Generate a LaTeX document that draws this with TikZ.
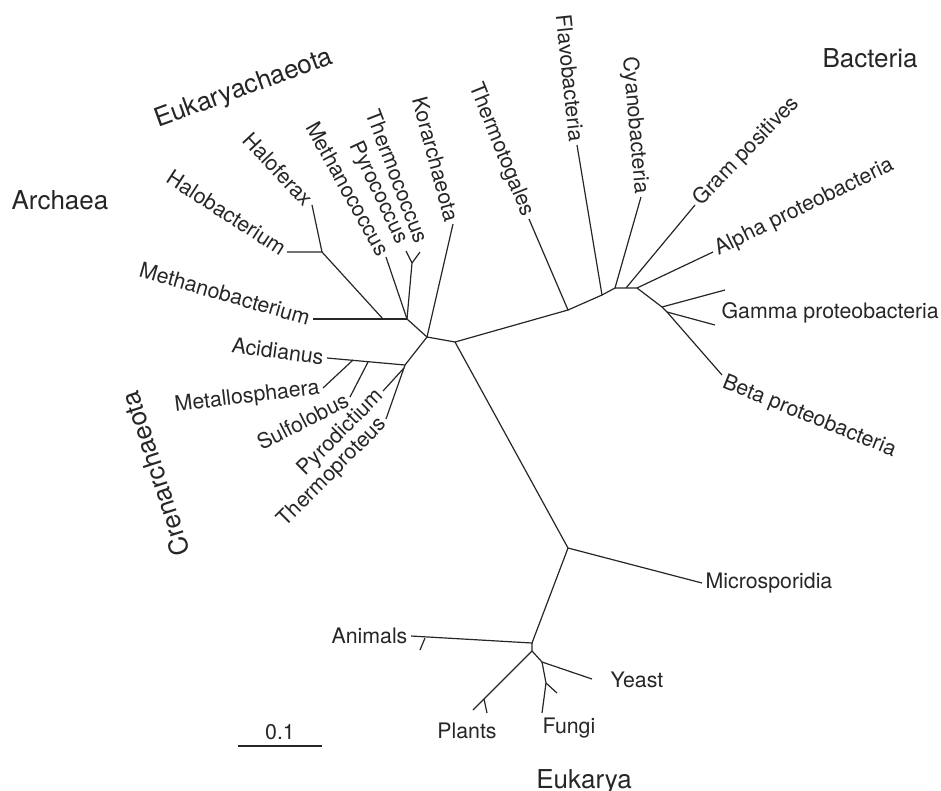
\documentclass[tikz,border=0pt]{standalone}
\usepackage{fontspec}
\setmainfont{TeX Gyre Heros}
\usetikzlibrary{positioning}

\begin{document}
\begin{tikzpicture}[x=0.75pt, y=-0.75pt,
    branch/.style={line width=0.9pt, black!85, line join=round},
    taxon/.style={inner sep=2.5pt, text=black!85, font=\fontsize{16}{19}\selectfont},
    groupname/.style={inner sep=0pt, text=black!85, font=\fontsize{19.5}{23}\selectfont}]
    \useasboundingbox (0,0) rectangle (941,790);

    % inner nodes of the tree
    \coordinate (root) at (455,342);
    \coordinate (arch) at (427,337);
    \coordinate (eury) at (407,319);
    \coordinate (halojoin) at (383,319);
    \coordinate (halo) at (322,252);
    \coordinate (thermoc) at (412,263);
    \coordinate (cren) at (405,365);
    \coordinate (pyrojoin) at (404,368);
    \coordinate (metjoin) at (353,360);
    \coordinate (sulfjoin) at (368,362);
    \coordinate (bac1) at (568,310);
    \coordinate (bac2) at (602,295);
    \coordinate (bac3) at (615,288);
    \coordinate (bac4) at (626,288);
    \coordinate (bac5) at (637,288);
    \coordinate (bac6) at (662,307);
    \coordinate (bac7) at (667,312);
    \coordinate (euk1) at (568,548);
    \coordinate (euk2) at (532,643);
    \coordinate (euk3) at (532,651);
    \coordinate (euk4) at (542,662);
    \coordinate (fungfork) at (546,683);
    \coordinate (plantfork) at (484,699);
    \coordinate (animfork) at (425,638);

    % free tips
    \coordinate (pyrotip) at (406,251);
    \coordinate (thermotip) at (420,252);
    \coordinate (gammatipA) at (725,290);
    \coordinate (gammatipB) at (715,325);
    \coordinate (betatip) at (722,375);
    \coordinate (animtip) at (420,650);
    \coordinate (planttip) at (473,710);
    \coordinate (plantforktip) at (487,713);
    \coordinate (yeasttip) at (592,679);
    \coordinate (fungtipA) at (557,693);
    \coordinate (fungtipB) at (542,713);
    \coordinate (scaleL) at (238,746);
    \coordinate (scaleR) at (322,746);

    % Archaea
    \node[taxon, rotate=-33, anchor=east] (halobacterium) at (287,252) {Halobacterium};
    \node[taxon, rotate=-47, anchor=east] (haloferax) at (312,205) {Haloferax};
    \node[taxon, rotate=-16, anchor=east] (methanobacterium) at (313,319) {Methanobacterium};
    \node[taxon, rotate=-61, anchor=east] (methanococcus) at (386,257) {Methanococcus};
    \node[taxon, rotate=-65, anchor=east] (pyrococcus) at (403,246) {Pyrococcus};
    \node[taxon, rotate=-69, anchor=east] (thermococcus) at (424,245) {Thermococcus};
    \node[taxon, rotate=-75, anchor=east] (korarchaeota) at (453,224) {Korarchaeota};
    \node[taxon, rotate=-8, anchor=east] (acidianus) at (327,358) {Acidianus};
    \node[taxon, rotate=7, anchor=east] (metallosphaera) at (323,388) {Metallosphaera};
    \node[taxon, rotate=27, anchor=east] (sulfolobus) at (350,397) {Sulfolobus};
    \node[taxon, rotate=45, anchor=east] (pyrodictium) at (383,391) {Pyrodictium};
    \node[taxon, rotate=45, anchor=east] (thermoproteus) at (386,419) {Thermoproteus};

    % Bacteria
    \node[taxon, rotate=-68, anchor=east] (thermotogales) at (529,219) {Thermotogales};
    \node[taxon, rotate=-84, anchor=east] (flavobacteria) at (577,145) {Flavobacteria};
    \node[taxon, rotate=-85, anchor=east] (cyanobacteria) at (641,197) {Cyanobacteria};
    \node[taxon, rotate=46, anchor=west] (grampos) at (695,205) {Gram positives};
    \node[taxon, rotate=26, anchor=west] (alpha) at (713,252) {Alpha proteobacteria};
    \node[taxon, anchor=west] (gamma) at (718,313) {Gamma proteobacteria};
    \node[taxon, rotate=-22, anchor=west] (beta) at (720,381) {Beta proteobacteria};

    % Eukarya
    \node[taxon, anchor=west] (microsporidia) at (702,583) {Microsporidia};
    \node[taxon, anchor=east] (animals) at (411,636) {Animals};
    \node[taxon] (plants) at (467,731) {Plants};
    \node[taxon] (fungi) at (569,728) {Fungi};
    \node[taxon] (yeast) at (637,680) {Yeast};
    \node[taxon] (scale) at (280,732) {0.1};

    % domains and kingdoms
    \node[groupname] (archaea) at (60,200) {Archaea};
    \node[groupname, rotate=20] (eukaryachaeota) at (244,89) {Eukaryachaeota};
    \node[groupname, rotate=108] (crenarchaeota) at (155,474) {Crenarchaeota};
    \node[groupname] (bacteria) at (870,58) {Bacteria};
    \node[groupname] (eukarya) at (584,782) {Eukarya};

    % branches
    \draw[branch] (root) -- (arch) -- (korarchaeota.east);
    \draw[branch] (arch) -- (eury) -- (methanococcus.east);
    \draw[branch] (eury) -- (thermoc) -- (pyrotip);
    \draw[branch] (thermoc) -- (thermotip);
    \draw[branch] (eury) -- (methanobacterium.east);
    \draw[branch] (halojoin) -- (halo) -- (halobacterium.east);
    \draw[branch] (halo) -- (haloferax.east);
    \draw[branch] (arch) -- (cren) -- (acidianus.east);
    \draw[branch] (cren) -- (thermoproteus.east);
    \draw[branch] (pyrojoin) -- (pyrodictium.east);
    \draw[branch] (metjoin) -- (metallosphaera.east);
    \draw[branch] (sulfjoin) -- (sulfolobus.east);

    \draw[branch] (root) -- (bac1) -- (thermotogales.east);
    \draw[branch] (bac1) -- (bac2) -- (flavobacteria.east);
    \draw[branch] (bac2) -- (bac3) -- (cyanobacteria.east);
    \draw[branch] (bac3) -- (bac5) -- (bac6) -- (bac7) -- (betatip);
    \draw[branch] (bac4) -- (grampos.west);
    \draw[branch] (bac5) -- (alpha.west);
    \draw[branch] (bac6) -- (gammatipA);
    \draw[branch] (bac7) -- (gammatipB);

    \draw[branch] (root) -- (euk1) -- (microsporidia.west);
    \draw[branch] (euk1) -- (euk2) -- (animals.east);
    \draw[branch] (animfork) -- (animtip);
    \draw[branch] (euk2) -- (euk3) -- (planttip);
    \draw[branch] (plantfork) -- (plantforktip);
    \draw[branch] (euk3) -- (euk4) -- (yeasttip);
    \draw[branch] (euk4) -- (fungfork) -- (fungtipA);
    \draw[branch] (fungfork) -- (fungtipB);

    \draw[branch] (scaleL) -- (scaleR);
\end{tikzpicture}
\end{document}
